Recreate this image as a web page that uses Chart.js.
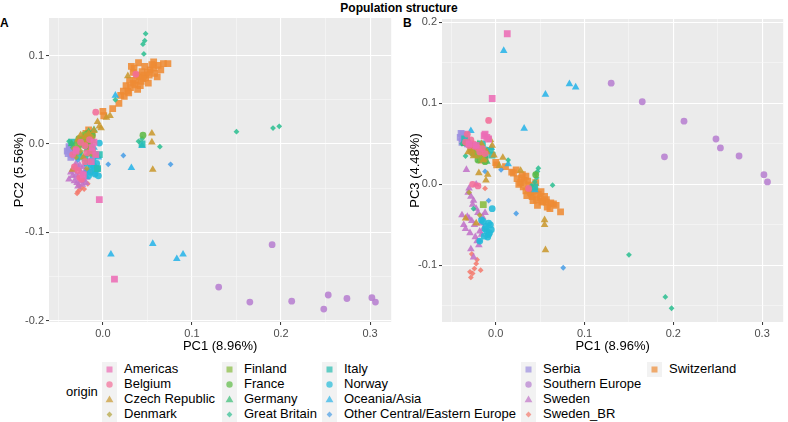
<!DOCTYPE html>
<html>
<head>
<meta charset="utf-8">
<script src="https://cdn.jsdelivr.net/npm/chart.js@4.4.0/dist/chart.umd.min.js"></script>
<style>
  body { margin: 0; width: 788px; height: 422px; position: relative; background: #fff; overflow: hidden;
         font-family: "Liberation Sans", Arial, sans-serif; }
  .abs { position: absolute; }
  #title { left: 0; width: 798px; top: 1px; text-align: center; font-weight: bold; font-size: 12px; }
  .tag { font-weight: bold; font-size: 12px; top: 16px; }
  #chartA { left: 0; top: 0; }
  #chartB { left: 396px; top: 0; }
  .leg { font-size: 13px; color: #000; white-space: nowrap; }
  .key { width: 15px; height: 15px; background: #F2F2F2; }
</style>
</head>
<body>
<div id="title" class="abs">Population structure</div>
<div class="abs tag" style="left:0px">A</div>
<div class="abs tag" style="left:403px">B</div>
<canvas id="chartA" class="abs" width="396" height="354"></canvas>
<canvas id="chartB" class="abs" width="392" height="354"></canvas>
<div id="legend"></div>

<script>
// each point: [PC1, PC2, PC3]
const americas = [[-0.004,-0.063,0.106],[0.013,-0.153,0.186],[-0.012,-0.004,0.062],[-0.010,0.002,0.058],
  [-0.008,-0.012,0.056],[-0.013,-0.020,0.060],[-0.030,-0.008,0.050],[-0.022,-0.035,0.048]];
const belgium = [[-0.008,0.036,0.079],[0.037,0.079,-0.005],[-0.020,-0.002,0.045],[-0.025,0.002,0.050],
  [-0.018,-0.010,0.040],[-0.030,-0.006,0.048],[-0.015,0.005,0.044],[-0.028,-0.030,0.055],[-0.024,-0.040,0.047],
  [-0.012,-0.008,0.038],[-0.034,-0.012,0.052],[-0.020,-0.020,-0.002],[-0.026,-0.038,0.000],[-0.032,-0.026,0.062]];
const czech = [[0.028,0.077,0.017],[0.008,0.032,0.033],[0.055,0.012,-0.044],[0.055,0.002,-0.050],
  [0.056,-0.029,-0.081],[-0.006,0.025,0.055],[-0.004,0.020,0.048],[-0.010,0.015,0.040],[-0.015,0.010,0.037],
  [-0.020,0.008,0.045],[-0.034,-0.029,-0.042],[-0.011,0.003,0.005],[-0.019,0.000,0.014],[-0.014,-0.005,0.030],
  [-0.002,0.018,0.036],[-0.028,0.005,0.042],[-0.025,0.010,0.035],[-0.009,-0.012,0.012],[0.004,0.030,0.023],
  [-0.031,-0.010,0.040],[-0.022,-0.015,-0.048],[-0.016,0.012,0.050]];
const denmark = [[-0.030,-0.015,-0.010],[-0.025,-0.008,0.040],[-0.020,0.002,0.035],[-0.015,-0.020,0.045],
  [-0.033,-0.005,0.050],[-0.012,0.008,0.030],[-0.028,0.004,0.038],[-0.018,-0.028,-0.038]];
const finland = [[-0.014,-0.010,-0.025],[-0.024,0.004,0.042],[-0.020,0.010,0.036],[-0.028,-0.002,0.046],
  [-0.016,0.006,0.032]];
const france = [[-0.022,0.005,0.045],[-0.018,0.008,0.040],[-0.015,0.003,0.035],[-0.020,-0.002,0.030],
  [-0.025,0.000,0.038],[-0.012,0.010,0.028],[-0.017,0.012,0.033],[-0.027,0.006,0.048],[-0.013,-0.004,0.042],
  [0.045,0.010,0.012]];
const germany = [[-0.020,0.010,0.050],[-0.016,0.014,0.040],[-0.024,0.004,0.045],[-0.012,0.006,0.035],
  [-0.030,0.002,0.052],[-0.018,-0.006,0.030],[-0.010,0.016,0.028],[-0.022,0.008,0.036],[-0.035,0.000,0.050]];
const greatBritain = [[0.048,0.125,0.020],[0.047,0.117,0.016],[0.045,0.113,0.013],[0.046,0.102,0.008],
  [0.014,0.050,0.030],[0.040,0.003,-0.002],[0.044,0.006,0.003],[0.064,-0.003,-0.001],[0.150,0.014,-0.087],
  [0.191,0.018,-0.139],[0.198,0.020,-0.153],[-0.038,0.003,0.050],[-0.025,-0.010,-0.030],[-0.034,-0.004,0.035]];
const italy = [[-0.004,-0.012,0.036],[-0.006,-0.028,0.042],[-0.027,-0.014,0.044],[-0.020,-0.016,0.048],
  [-0.012,-0.008,0.038],[-0.015,-0.002,0.050],[-0.035,0.002,0.056],[0.044,0.000,-0.003]];
const norway = [[-0.004,0.001,-0.030],[-0.010,-0.025,-0.058],[-0.008,-0.030,-0.062],[-0.012,-0.020,-0.055],
  [-0.006,-0.028,-0.050],[-0.009,-0.034,-0.065],[-0.014,-0.032,-0.046],[-0.007,-0.022,-0.060],
  [-0.011,-0.016,-0.052],[-0.005,-0.036,-0.056],[-0.013,-0.026,-0.064],[-0.016,-0.036,-0.044],
  [-0.008,-0.012,-0.048],[-0.018,-0.022,-0.070]];
const oceaniaAsia = [[0.009,-0.125,0.165],[0.056,-0.113,0.111],[0.083,-0.130,0.124],[0.090,-0.125,0.120],
  [0.032,-0.027,0.069],[0.014,0.055,0.025],[0.044,-0.002,-0.007],[-0.028,-0.002,0.066],[-0.010,-0.004,0.042],
  [-0.005,-0.015,0.045]];
const otherCEE = [[0.006,-0.023,0.018],[0.023,-0.013,-0.036],[0.076,-0.023,-0.103],[-0.012,-0.026,0.016],
  [-0.018,-0.030,-0.070],[-0.028,-0.018,0.040],[-0.008,-0.035,-0.020]];
const serbia = [[-0.040,-0.008,0.058],[-0.037,-0.005,0.062],[-0.035,-0.012,0.055],[-0.033,-0.010,0.060],
  [-0.038,-0.003,0.052],[-0.036,-0.015,0.057],[-0.032,-0.006,0.050],[-0.039,-0.011,0.063]];
const southernEurope = [[0.190,-0.114,0.034],[0.130,-0.162,0.125],[0.165,-0.179,0.102],[0.212,-0.178,0.078],
  [0.253,-0.171,0.045],[0.248,-0.187,0.056],[0.274,-0.175,0.035],[0.302,-0.174,0.012],[0.306,-0.179,0.003],
  [-0.038,-0.006,0.055],[-0.033,-0.014,0.050]];
const sweden = [[-0.033,-0.030,0.018],[-0.030,-0.035,-0.005],[-0.028,-0.038,-0.015],[-0.025,-0.032,-0.020],
  [-0.022,-0.040,-0.030],[-0.032,-0.042,-0.040],[-0.027,-0.028,-0.045],[-0.024,-0.036,-0.050],
  [-0.020,-0.030,-0.035],[-0.034,-0.036,-0.055],[-0.029,-0.044,-0.060],[-0.023,-0.046,-0.065],
  [-0.018,-0.038,-0.058],[-0.026,-0.024,-0.025],[-0.031,-0.026,-0.010],[-0.021,-0.034,-0.070],
  [-0.016,-0.030,-0.062],[-0.028,-0.048,-0.080],[-0.025,-0.042,-0.090],[-0.019,-0.044,-0.075],
  [-0.036,-0.032,-0.050],[-0.030,-0.022,-0.042],[-0.022,-0.026,0.000],[-0.015,-0.020,-0.040],
  [-0.017,-0.012,-0.048],[-0.012,-0.010,-0.035],[-0.014,-0.004,-0.055],[-0.038,-0.040,-0.038]];
const swedenBR = [[-0.028,-0.054,-0.115],[-0.029,-0.056,-0.108],[-0.024,-0.049,-0.104],[-0.017,-0.045,-0.106],
  [-0.021,-0.051,-0.093],[-0.027,-0.047,-0.086],[-0.026,-0.052,-0.110],[-0.012,-0.032,-0.005],[-0.022,-0.042,-0.098]];
const switzerland = [[0.000,0.037,0.027],[0.001,0.032,0.024],[0.011,0.040,0.022],[0.018,0.046,0.015],
  [0.024,0.054,0.007],[0.028,0.060,0.002],[0.031,0.064,-0.003],[0.034,0.069,-0.008],[0.037,0.072,-0.006],
  [0.041,0.076,-0.015],[0.046,0.078,-0.019],[0.050,0.081,-0.017],[0.053,0.084,-0.021],[0.057,0.086,-0.022],
  [0.062,0.089,-0.023],[0.068,0.091,-0.026],[0.073,0.091,-0.034],[0.057,0.093,-0.019],[0.040,0.092,-0.012],
  [0.032,0.088,0.005],[0.034,0.081,0.010],[0.061,0.076,-0.030],[0.039,0.062,-0.010],[0.026,0.066,0.000],
  [0.030,0.072,0.012],[0.036,0.067,0.004],[0.043,0.071,-0.004],[0.048,0.075,-0.012],[0.044,0.082,-0.008],
  [0.052,0.078,-0.022],[0.055,0.090,-0.015],[0.047,0.088,-0.026],[0.020,0.055,0.014],[0.042,0.066,-0.020],
  [0.058,0.080,-0.028],[0.065,0.084,-0.024],[0.038,0.078,-0.001],[0.045,0.074,0.002],[0.051,0.069,-0.009],
  [0.029,0.058,0.008],[-0.016,0.016,0.030],[-0.019,0.012,0.046],[-0.012,0.010,0.034],[0.035,0.086,-0.014],
  [0.023,0.060,0.018]];

const origins = ["Americas", "Belgium", "Czech Republic", "Denmark", "Finland", "France", "Germany",
  "Great Britain", "Italy", "Norway", "Oceania/Asia", "Other Central/Eastern Europe", "Serbia",
  "Southern Europe", "Sweden", "Sweden_BR", "Switzerland"];
const originData = [americas, belgium, czech, denmark, finland, france, germany, greatBritain, italy,
  norway, oceaniaAsia, otherCEE, serbia, southernEurope, sweden, swedenBR, switzerland];

const xMajor = [0, 0.1, 0.2, 0.3], xMinor = [-0.05, 0.05, 0.15, 0.25];
const pc2Major = [-0.2, -0.1, 0, 0.1], pc2Minor = [-0.15, -0.05, 0.05];
const pc3Major = [-0.1, 0, 0.1, 0.2], pc3Minor = [-0.15, -0.05, 0.05, 0.15];

// styles
const colors = ["#EC6CB5", "#F36D98", "#C9992F", "#B2A33B", "#88BC3E", "#5DBA45", "#37BD73", "#2FBF92",
  "#27BEB2", "#22BAD8", "#29B4E8", "#4A9EE6", "#9C8FE0", "#B77FD0", "#C173C8", "#F47B6E", "#EE8B34"];
const shapeCycle = ["rect", "circle", "triangle", "rectRot"];
const shapeSize = { rect: 4.8, circle: 3.4, triangle: 4.4, rectRot: 2.9 };

function alpha(hex, a) {
  const n = parseInt(hex.slice(1), 16);
  return `rgba(${n >> 16},${(n >> 8) & 255},${n & 255},${a})`;
}

const plotBg = {
  id: "plotBg",
  beforeDraw(chart) {
    const {ctx, chartArea: a} = chart;
    ctx.save();
    ctx.fillStyle = "#EBEBEB";
    ctx.fillRect(a.left, a.top, a.right - a.left, a.bottom - a.top);
    ctx.restore();
  }
};

function axis(major, minor, min, max, title, fit, titlePad) {
  return {
    type: "linear", min: min, max: max,
    afterBuildTicks: s => { s.ticks = major.concat(minor).sort((a, b) => a - b).map(v => ({value: v})); },
    afterFit: fit,
    ticks: { autoSkip: false, maxRotation: 0, padding: 2, color: "#4D4D4D", font: {size: 11},
             callback: v => major.includes(v) ? v.toFixed(1) : "" },
    grid: {
      color: c => major.includes(c.tick.value) ? "#FFFFFF" : "#F8F8F8",
      lineWidth: c => major.includes(c.tick.value) ? 1.1 : 0.6,
      tickColor: c => major.includes(c.tick.value) ? "#333333" : "rgba(0,0,0,0)",
      tickLength: 3, tickWidth: 1
    },
    border: { display: false },
    title: { display: true, text: title, color: "#000", font: {size: 13}, padding: titlePad }
  };
}

function makePanel(id, pcIndex, yMajor, yMinor, yMin, yMax, yTitle, yWidth, padTop) {
  const datasets = origins.map((name, i) => {
    const shape = shapeCycle[i % 4];
    return {
      label: name,
      data: originData[i].map(p => ({x: p[0], y: p[pcIndex]})),
      pointStyle: shape,
      pointRadius: shapeSize[shape],
      backgroundColor: alpha(colors[i], 0.88),
      borderWidth: 0
    };
  });
  new Chart(document.getElementById(id), {
    type: "scatter",
    data: { datasets },
    options: {
      responsive: false, animation: false,
      layout: { padding: { top: padTop, right: id === "chartA" ? 1 : 0, bottom: 0, left: 0 } },
      plugins: { legend: { display: false }, tooltip: { enabled: false } },
      scales: {
        x: axis(xMajor, xMinor, -0.0605, 0.3237, "PC1 (8.96%)", s => { s.height = 32; }, {top: 0, bottom: 0}),
        y: axis(yMajor, yMinor, yMin, yMax, yTitle, s => { s.width = yWidth; }, {top: 11.2, bottom: 0})
      }
    },
    plugins: [plotBg]
  });
}

makePanel("chartA", 1, pc2Major, pc2Minor, -0.2016, 0.1427, "PC2 (5.56%)", 49, 18);
makePanel("chartB", 2, pc3Major, pc3Minor, -0.1700, 0.2042, "PC3 (4.48%)", 46, 19);

// legend (ggplot style, column-major, 4 rows)
const legend = document.getElementById("legend");
const keyLeft = [102, 222, 322, 521, 647];
function symbol(shape, color) {
  const c = alpha(color, 0.7);
  if (shape === "rect") return `<rect x="4.5" y="4.5" width="6" height="6" fill="${c}"/>`;
  if (shape === "circle") return `<circle cx="7.5" cy="7.5" r="3.2" fill="${c}"/>`;
  if (shape === "triangle") return `<polygon points="7.5,3.6 11.4,10.3 3.6,10.3" fill="${c}"/>`;
  return `<polygon points="7.5,4.6 10.4,7.5 7.5,10.4 4.6,7.5" fill="${c}"/>`;
}
origins.forEach((name, i) => {
  const col = Math.floor(i / 4), row = i % 4;
  const top = 361.5 + row * 15;
  const k = document.createElement("div");
  k.className = "abs key";
  k.style.left = keyLeft[col] + "px";
  k.style.top = top + "px";
  k.innerHTML = `<svg width="15" height="15">${symbol(shapeCycle[i % 4], colors[i])}</svg>`;
  legend.appendChild(k);
  const t = document.createElement("div");
  t.className = "abs leg";
  t.style.left = (keyLeft[col] + 22) + "px";
  t.style.top = (top - 0.5) + "px";
  t.style.lineHeight = "15px";
  t.textContent = name;
  legend.appendChild(t);
});
const o = document.createElement("div");
o.className = "abs leg";
o.style.left = "66px";
o.style.top = "384px";
o.style.lineHeight = "15px";
o.textContent = "origin";
legend.appendChild(o);
</script>
</body>
</html>
